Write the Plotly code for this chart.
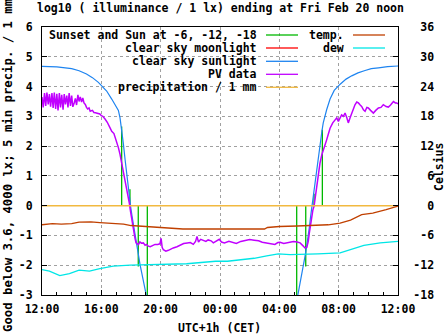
import plotly.graph_objects as go

# ---------------- data (x = hours after Thu 12:00 CET) ----------------
x_tick_vals = [0, 4, 8, 12, 16, 20, 24]
x_tick_text = ["12:00", "16:00", "20:00", "00:00", "04:00", "08:00", "12:00"]
y_tick_vals = [6, 5, 4, 3, 2, 1, 0, -1, -2, -3]
y2_tick_vals = [36, 30, 24, 18, 12, 6, 0, -6, -12, -18]

# sunset / sunrise and sun at -6, -12, -18 deg (vertical markers)
sun_event_hours = [5.37, 5.93, 6.49, 7.10, 17.17, 17.78, 18.34, 18.90]
sun_event_levels = [2.66, 0.55, -2.04, -3.5, -3.5, -2.04, 0.40, 2.55]

# clear sky sunlight, evening branch and morning branch
sun_eve_hours = [0.0, 1.0, 2.0, 2.5, 3.0, 3.4, 3.8, 4.0, 4.36, 4.7, 4.95, 5.15, 5.26, 5.37,
                 5.48, 5.6, 5.71, 5.82, 5.93, 5.98, 6.07, 6.16, 6.27, 6.38, 6.5, 6.61,
                 6.72, 6.83, 7.01, 7.15]
sun_eve_vals = [4.68, 4.66, 4.60, 4.53, 4.42, 4.30, 4.14, 4.04, 3.85, 3.58, 3.38, 3.20, 2.95,
                2.60, 2.10, 1.55, 1.05, 0.60, 0.12, -0.05, -0.35, -0.64, -1.00, -1.36, -1.70,
                -1.98, -2.25, -2.50, -2.93, -3.30]
sun_morn_hours = [17.1, 17.28, 17.4, 17.51, 17.62, 17.73, 17.84, 17.95, 18.03, 18.11, 18.2,
                  18.29, 18.38, 18.47, 18.55, 18.63, 18.71, 18.79, 18.87, 18.96, 19.08, 19.19,
                  19.42, 19.7, 20.1, 20.5, 20.88, 21.3, 21.78, 22.2, 22.68, 23.3, 24.0]
sun_morn_vals = [-3.4, -2.93, -2.65, -2.37, -2.05, -1.70, -1.37, -1.03, -0.70, -0.36, 0.0,
                 0.31, 0.65, 0.98, 1.30, 1.65, 1.95, 2.21, 2.50, 2.78, 3.02, 3.22,
                 3.58, 3.87, 4.08, 4.25, 4.36, 4.46, 4.54, 4.60, 4.63, 4.67, 4.69]

# PV data (log10 lux)
pv_hours = [0.00, 0.08, 0.17, 0.25, 0.33, 0.42, 0.50, 0.58, 0.67, 0.75, 0.83, 0.92, 1.00, 1.08,
            1.17, 1.25, 1.33, 1.42, 1.50, 1.58, 1.67, 1.75, 1.83, 1.92, 2.00, 2.08, 2.17, 2.25,
            2.33, 2.42, 2.50, 2.58, 2.67, 2.75, 2.83, 2.92, 3.00, 3.08, 3.17, 3.25, 3.40, 3.50,
            3.60, 3.75, 3.90, 4.00, 4.10, 4.25, 4.40, 4.58, 4.70, 4.85, 4.95, 5.03, 5.15, 5.26,
            5.37, 5.48, 5.60, 5.71, 5.80, 5.89, 5.97, 6.05, 6.12, 6.20, 6.27, 6.34, 6.42, 6.50,
            6.60, 6.70, 6.83, 6.95, 7.05, 7.17, 7.30, 7.45, 7.62, 7.80, 7.95, 8.03, 8.10, 8.18,
            8.35, 8.52, 8.70, 8.85, 9.10, 9.30, 9.55, 9.80, 10.00, 10.20, 10.35, 10.45, 10.55,
            10.70, 10.90, 11.05, 11.20, 11.40, 11.55, 11.80, 11.95, 12.10, 12.30, 12.60, 12.90,
            13.10, 13.40, 13.70, 14.00, 14.30, 14.60, 14.85, 15.15, 15.45, 15.70, 15.90, 16.05,
            16.30, 16.50, 16.75, 16.95, 17.20, 17.40, 17.60, 17.73, 17.85, 17.95, 18.02, 18.10,
            18.18, 18.26, 18.34, 18.43, 18.52, 18.63, 18.74, 18.86, 18.96, 19.08, 19.19, 19.30,
            19.42, 19.60, 19.76, 19.87, 19.98, 20.10, 20.20, 20.32, 20.43, 20.55, 20.65, 20.77,
            20.88, 21.00, 21.10, 21.22, 21.33, 21.45, 21.55, 21.67, 21.78, 21.90, 22.00, 22.15,
            22.34, 22.50, 22.68, 22.85, 23.01, 23.20, 23.35, 23.50, 23.69, 23.82, 23.92, 24.00]
pv_vals = [3.65, 3.30, 3.78, 3.35, 3.80, 3.40, 3.75, 3.32, 3.78, 3.28, 3.80, 3.25, 3.76, 3.20,
           3.78, 3.30, 3.72, 3.22, 3.75, 3.40, 3.70, 3.30, 3.78, 3.35, 3.70, 3.32, 3.45, 3.60,
           3.38, 3.72, 3.50, 3.65, 3.48, 3.62, 3.45, 3.40, 3.30, 3.25, 3.28, 3.17, 3.20, 3.13,
           3.12, 3.10, 3.08, 3.02, 3.00, 2.91, 2.80, 2.62, 2.50, 2.42, 2.28, 2.10, 1.95, 1.72,
           1.45, 1.20, 0.87, 0.52, 0.30, 0.08, -0.20, -0.47, -0.70, -0.92, -1.10, -1.25, -1.30, -1.31,
           -1.22, -1.26, -1.25, -1.33, -1.30, -1.36, -1.38, -1.33, -1.30, -1.30, -1.28, -1.10, -1.40, -1.48,
           -1.53, -1.50, -1.45, -1.42, -1.38, -1.33, -1.27, -1.25, -1.24, -1.30, -1.20, -1.03, -1.22,
           -1.13, -1.17, -1.20, -1.15, -1.18, -1.25, -1.18, -1.13, -1.22, -1.25, -1.20, -1.24,
           -1.27, -1.20, -1.18, -1.14, -1.16, -1.18, -1.23, -1.25, -1.28, -1.30, -1.24, -1.23,
           -1.27, -1.25, -1.23, -1.20, -1.22, -1.25, -1.35, -1.42, -1.40, -1.20, -0.92, -0.65,
           -0.36, -0.15, -0.02, 0.35, 0.65, 1.05, 1.43, 1.70, 1.88, 2.10, 2.21, 2.40,
           2.60, 2.78, 2.89, 2.95, 2.83, 2.95, 3.05, 3.00, 3.11, 2.95, 2.78, 2.95,
           3.11, 3.25, 3.39, 3.48, 3.45, 3.38, 3.33, 3.22, 3.17, 3.30, 3.28, 3.20,
           3.11, 3.20, 3.28, 3.30, 3.39, 3.33, 3.31, 3.38, 3.50, 3.45, 3.45, 3.42]

# precipitation / 1 mm
precip_hours = [0, 24]
precip_vals = [0, 0]

# temperature and dew point (Celsius)
temp_hours = [0.0, 0.7, 1.3, 2.0, 2.5, 3.3, 3.9, 4.5, 5.5, 6.0, 7.0, 8.0, 8.5, 9.5, 12.0,
              15.0, 15.2, 16.0, 17.2, 18.3, 19.3, 20.1, 20.8, 21.55, 22.3, 23.2, 24.0]
temp_vals = [-3.85, -3.6, -3.7, -3.6, -3.3, -3.25, -3.4, -3.5, -3.7, -4.0, -4.2, -4.4, -4.6,
             -4.7, -4.7, -4.7, -4.4, -4.2, -4.1, -4.0, -3.85, -3.5, -2.9, -1.8, -1.5, -0.8, -0.1]
dew_hours = [0.0, 0.5, 1.2, 1.85, 2.5, 3.2, 3.9, 4.8, 5.95, 7.1, 8.2, 9.75, 11.7, 12.5, 13.4,
             14.3, 15.15, 15.93, 16.72, 17.9, 18.6, 20.1, 20.76, 21.7, 22.8, 24.0]
dew_vals = [-12.9, -13.2, -14.1, -13.7, -13.0, -13.2, -12.7, -12.2, -12.0, -11.9, -11.9, -11.7,
            -11.2, -11.2, -10.9, -10.6, -10.1, -9.7, -9.85, -9.8, -9.7, -9.5, -8.9, -8.0, -7.5, -7.2]

legend_col1 = ["Sunset and Sun at -6, -12, -18", "clear sky moonlight", "clear sky sunlight",
               "PV data", "precipitation / 1 mm"]
legend_col2 = ["temp.", "dew"]

title_text = "log10 ( illuminance / 1 lx) ending at Fri Feb 20 noon"
ytitle_text = "Good below 3.6, 4000 lx; 5 min precip. / 1 mm"
y2title_text = "Celsius"
xtitle_text = "UTC+1h (CET)"

# ---------------- styles ----------------
C_GREEN = "#00b800"
C_RED = "#ff0000"
C_BLUE = "#1e84f0"
C_PURPLE = "#c000ff"
C_ORANGE = "#f2b940"
C_BROWN = "#c04000"
C_CYAN = "#00e6e6"
FONT = dict(family="DejaVu Sans Mono", size=11.5, color="black", weight="bold")

W, H = 447, 335
L, R, T, B = 42, 398, 27, 295


def px(x):
    return (x - L) / (R - L)


def py(y):
    return (B - y) / (B - T)


fig = go.Figure()

gx, gy = [], []
for h, v in zip(sun_event_hours, sun_event_levels):
    gx += [h, h, None]
    gy += [0, v, None]
fig.add_trace(go.Scatter(x=gx, y=gy, mode="lines", line=dict(color=C_GREEN, width=1.3)))

fig.add_trace(go.Scatter(x=sun_eve_hours + [None] + sun_morn_hours,
                         y=sun_eve_vals + [None] + sun_morn_vals,
                         mode="lines", line=dict(color=C_BLUE, width=1.2)))
fig.add_trace(go.Scatter(x=pv_hours, y=pv_vals, mode="lines",
                         line=dict(color=C_PURPLE, width=1.5)))
fig.add_trace(go.Scatter(x=precip_hours, y=precip_vals, mode="lines",
                         line=dict(color=C_ORANGE, width=1.5)))
fig.add_trace(go.Scatter(x=temp_hours, y=temp_vals, mode="lines", yaxis="y2",
                         line=dict(color=C_BROWN, width=1.3)))
fig.add_trace(go.Scatter(x=dew_hours, y=dew_vals, mode="lines", yaxis="y2",
                         line=dict(color=C_CYAN, width=1.3)))

grid = dict(showgrid=True, gridcolor="#a0a0a0", gridwidth=1, griddash="3px,3px")

fig.update_layout(
    width=W, height=H,
    margin=dict(l=L, r=W - R, t=T, b=H - B, pad=0),
    paper_bgcolor="white", plot_bgcolor="white",
    showlegend=False,
    font=FONT,
    xaxis=dict(range=[0, 24], tickvals=x_tick_vals, ticktext=x_tick_text,
               ticks="inside", ticklen=5, tickcolor="black", showline=True, linecolor="black",
               linewidth=1, mirror=True, zeroline=False, tickfont=FONT, ticklabelstandoff=3,
               minor=dict(dtick=1, ticks="inside", ticklen=3, tickcolor="black", showgrid=False),
               **grid),
    yaxis=dict(range=[-3, 6], tickvals=y_tick_vals, ticktext=[str(v) for v in y_tick_vals],
               ticks="inside", ticklen=5, tickcolor="black", showline=True, linecolor="black",
               linewidth=1, mirror=True, zeroline=False, tickfont=FONT, ticklabelstandoff=6,
               **grid),
    yaxis2=dict(range=[-18, 36], overlaying="y", side="right",
                tickvals=y2_tick_vals,
                ticktext=[("\u00a0" * (3 - len(str(v)))) + str(v) for v in y2_tick_vals],
                ticks="inside", ticklen=5, tickcolor="black", showline=True, linecolor="black",
                showgrid=False, zeroline=False, tickfont=FONT, ticklabelstandoff=12),
)

# opaque key areas (above grid, below data)
fig.add_shape(type="rect", xref="paper", yref="paper", x0=px(L + 1), x1=px(298),
              y0=py(93), y1=py(T + 1), fillcolor="white", line_width=0, layer="between")
fig.add_shape(type="rect", xref="paper", yref="paper", x0=px(298), x1=px(R - 1),
              y0=py(54), y1=py(T + 1), fillcolor="white", line_width=0, layer="between")

# custom key
rows = [35, 48, 61.3, 74.3, 87.3]
col1_colors = [C_GREEN, C_RED, C_BLUE, C_PURPLE, C_ORANGE]
col2_colors = [C_BROWN, C_CYAN]
for i, (txt, col) in enumerate(zip(legend_col1, col1_colors)):
    fig.add_annotation(text=txt, xref="paper", yref="paper", x=px(259), y=py(rows[i]),
                       xanchor="right", yanchor="middle", showarrow=False, font=FONT)
    fig.add_shape(type="line", xref="paper", yref="paper", x0=px(266), x1=px(298),
                  y0=py(rows[i]), y1=py(rows[i]), line=dict(color=col, width=1.3))
for i, (txt, col) in enumerate(zip(legend_col2, col2_colors)):
    fig.add_annotation(text=txt, xref="paper", yref="paper", x=px(346), y=py(rows[i]),
                       xanchor="right", yanchor="middle", showarrow=False, font=FONT)
    fig.add_shape(type="line", xref="paper", yref="paper", x0=px(353), x1=px(385),
                  y0=py(rows[i]), y1=py(rows[i]), line=dict(color=col, width=1.3))

# titles
fig.add_annotation(text=title_text, xref="paper", yref="paper", x=px(220), y=py(8),
                   xanchor="center", yanchor="middle", showarrow=False, font=FONT)
fig.add_annotation(text=xtitle_text, xref="paper", yref="paper", x=px(219), y=py(328),
                   xanchor="center", yanchor="middle", showarrow=False, font=FONT)
fig.add_annotation(text=ytitle_text, xref="paper", yref="paper", x=px(8), y=py(166),
                   xanchor="center", yanchor="middle", showarrow=False, textangle=-90,
                   font=dict(FONT, size=12.3))
fig.add_annotation(text=y2title_text, xref="paper", yref="paper", x=px(439), y=py(167),
                   xanchor="center", yanchor="middle", showarrow=False, textangle=-90,
                   font=FONT)

fig.write_html("out.html")
